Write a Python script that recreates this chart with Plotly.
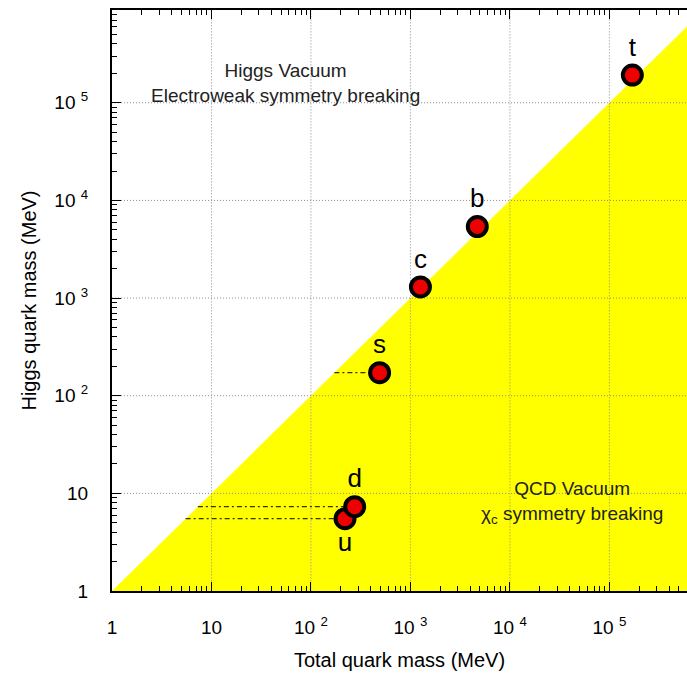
import plotly.graph_objects as go
import numpy as np

quarks = ["u", "d", "s", "c", "b", "t"]
total_mass = [220, 275, 490, 1260, 4700, 170000]
higgs_mass = [5.5, 7.3, 172, 1300, 5400, 192000]
label_pos = ["bottom center", "top center", "top center", "top center", "top center", "top center"]
dashed_quarks = ["u", "d", "s"]

major_vals = [1, 10, 100, 1000, 10000, 100000]
major_text = ["1", "10", "10 <sup>2</sup>", "10 <sup>3</sup>", "10 <sup>4</sup>", "10 <sup>5</sup>"]
xlog_range = [0, 5.78]
ylog_range = [0, 5.95]

minor_vals = [m * 10**d for d in range(0, 7) for m in range(2, 10)]

FONT = "Liberation Sans, Arial, Helvetica, sans-serif"
fig = go.Figure()

# Yellow QCD region below the diagonal
big = 1e7
fig.add_trace(go.Scatter(x=[1, big, big, 1], y=[1, big, 1, 1], fill="toself",
                         fillcolor="#ffff00", line=dict(width=0), mode="lines",
                         hoverinfo="skip", showlegend=False))

# grid lines drawn above the fill
gx, gy = [], []
for v in major_vals[1:]:
    gx += [v, v, None]
    gy += [0.5, big, None]
    gx += [0.5, big, None]
    gy += [v, v, None]
fig.add_trace(go.Scatter(x=gx, y=gy, mode="lines",
                         line=dict(color="#8a8a8a", width=1, dash="1px,2px"),
                         hoverinfo="skip", showlegend=False))

# dash-dot lines from the diagonal to the light quark points
for q, xm, ym in zip(quarks, total_mass, higgs_mass):
    if q in dashed_quarks:
        fig.add_trace(go.Scatter(x=[ym, xm], y=[ym, ym], mode="lines",
                                 line=dict(color="black", width=1, dash="5px,3px,2px,3px"),
                                 hoverinfo="skip", showlegend=False))

fig.add_trace(go.Scatter(
    x=total_mass, y=higgs_mass, mode="markers+text", text=quarks,
    textposition=label_pos,
    textfont=dict(family=FONT, size=26, color="black"),
    marker=dict(size=19, color="#ee0000", line=dict(color="black", width=4)),
    showlegend=False, cliponaxis=False))

fig.add_annotation(x=np.log10(55), y=np.log10(1.6e5), xref="x", yref="y",
                   text="Higgs Vacuum<br>Electroweak symmetry breaking",
                   showarrow=False, font=dict(family=FONT, size=19, color="#222"),
                   align="center")
fig.add_annotation(x=np.log10(4.2e4), y=np.log10(8), xref="x", yref="y",
                   text="QCD Vacuum<br>χ<sub>c</sub> symmetry breaking",
                   showarrow=False, font=dict(family=FONT, size=19, color="#222"),
                   align="center")

axis_common = dict(
    type="log", tickmode="array", tickvals=major_vals, ticktext=major_text,
    ticks="inside", ticklen=9, tickwidth=1, tickcolor="black",
    showgrid=False, zeroline=False, showline=True, linecolor="black", linewidth=2,
    tickfont=dict(family=FONT, size=19, color="black"),
    minor=dict(tickmode="array", tickvals=minor_vals, ticks="inside", ticklen=5,
               tickcolor="black", showgrid=False),
)

fig.update_layout(
    width=687, height=677,
    margin=dict(l=112, r=0, t=10, b=86),
    plot_bgcolor="white", paper_bgcolor="white",
    xaxis=dict(**axis_common, range=xlog_range, mirror="allticks",
               ticklabelstandoff=18,
               title=dict(text="Total quark mass (MeV)", standoff=16,
                          font=dict(family=FONT, size=20, color="black"))),
    yaxis=dict(**axis_common, range=ylog_range, mirror=False,
               ticklabelstandoff=18,
               title=dict(text="Higgs quark mass (MeV)", standoff=12,
                          font=dict(family=FONT, size=20, color="black"))),
)

fig.write_html("out.html")
